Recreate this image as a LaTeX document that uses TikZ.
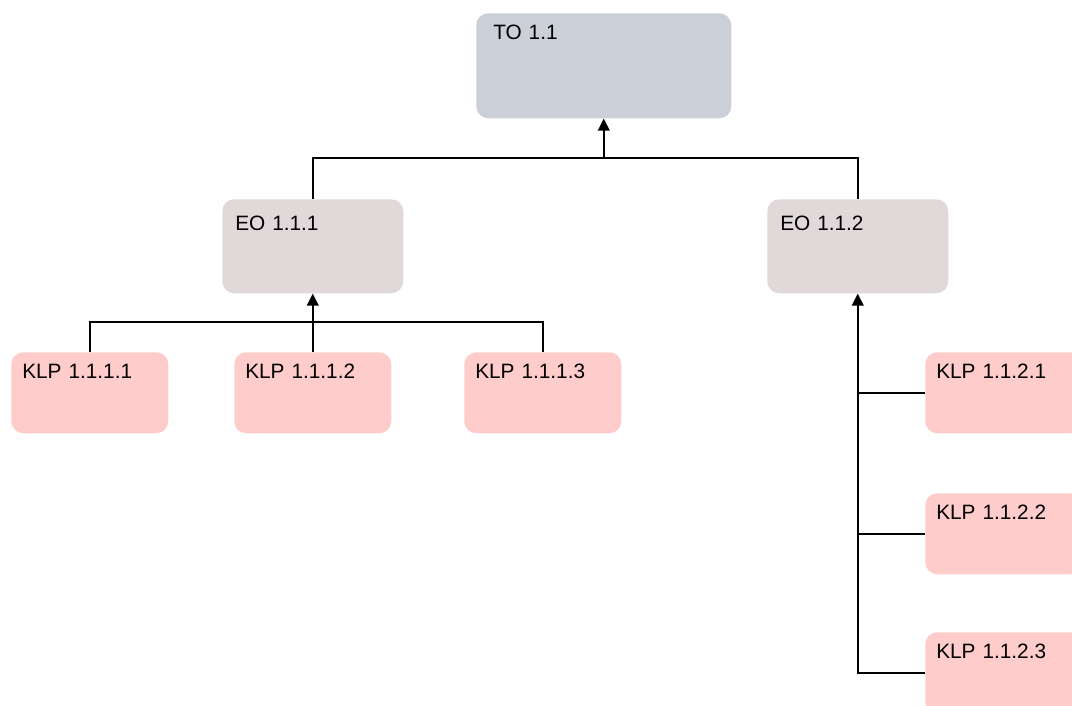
\documentclass[tikz,border=0pt]{standalone}
\usepackage{fontspec}
\setmainfont{Liberation Sans}
\usetikzlibrary{arrows.meta}
\definecolor{togray}{HTML}{CBD0D8}
\definecolor{eogray}{HTML}{E0D8D9}
\definecolor{klppink}{HTML}{FFCCCC}
\tikzset{
  box/.style={anchor=north west, rounded corners=9pt, align=left,
    font=\fontsize{15.6}{18}\selectfont, text height=10.8pt},
  tobox/.style={box, fill=togray, inner xsep=12.75pt, inner ysep=9pt,
    text width=165.75pt, text depth=49.95pt},
  eobox/.style={box, fill=eogray, inner xsep=9.75pt, inner ysep=12.75pt,
    text width=116.25pt, text depth=34.2pt},
  klpbox/.style={box, fill=klppink, inner xsep=8.25pt, inner ysep=9pt,
    text width=101.25pt, text depth=31.95pt},
  link/.style={line width=1.7pt},
  arr/.style={line width=1.9pt, -{Triangle[length=9pt,width=8.5pt]}},
}
\begin{document}
\begin{tikzpicture}[x=0.75pt, y=-0.75pt]
  \useasboundingbox (0,0) rectangle (1072,706);
  \clip (0,0) rectangle (1072,706);
  % boxes
  \node[tobox] (to) at (476,13) {TO 1.1};
  \node[eobox] (eo1) at (222,199) {EO 1.1.1};
  \node[eobox] (eo2) at (767,199) {EO 1.1.2};
  \node[klpbox] (k111) at (11,352) {KLP 1.1.1.1};
  \node[klpbox] (k112) at (234,352) {KLP 1.1.1.2};
  \node[klpbox] (k113) at (464,352) {KLP 1.1.1.3};
  \node[klpbox] (k121) at (925,352) {KLP 1.1.2.1};
  \node[klpbox] (k122) at (925,493) {KLP 1.1.2.2};
  \node[klpbox] (k123) at (925,632) {KLP 1.1.2.3};
  % EO -> TO
  \draw[link] (eo1.north) -- ++(0,-41) coordinate (tojoin) -| (eo2.north);
  \draw[arr] (to.south |- tojoin) -- (to.south);
  % KLP -> EO 1.1.1
  \draw[link] (k111.north) -- ++(0,-30) -| (k113.north);
  \draw[arr] (k112.north) -- (eo1.south);
  % KLP -> EO 1.1.2
  \draw[arr] (k123.west) -| (eo2.south);
  \draw[link] (eo2.south |- k121.west) -- (k121.west);
  \draw[link] (eo2.south |- k122.west) -- (k122.west);
\end{tikzpicture}
\end{document}
